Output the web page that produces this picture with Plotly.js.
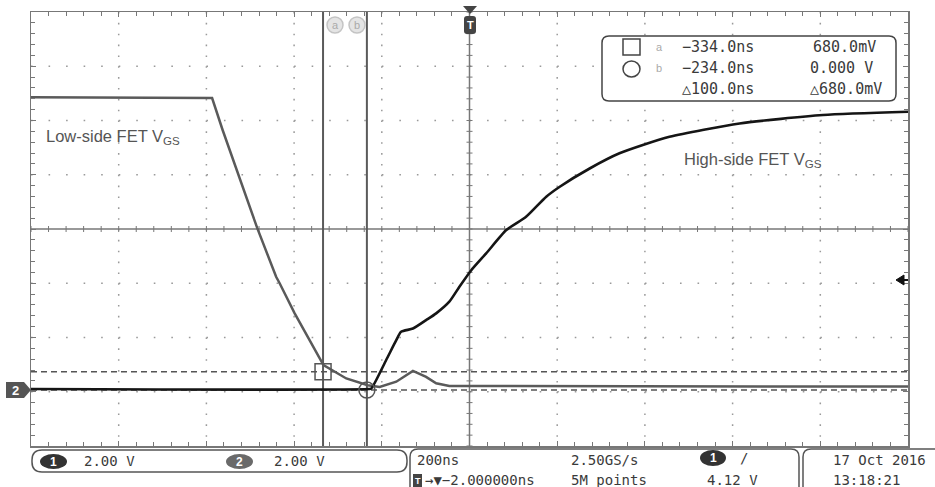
<!DOCTYPE html>
<html><head><meta charset="utf-8">
<script src="https://cdn.plot.ly/plotly-3.0.1.min.js"></script>
<style>html,body{margin:0;padding:0;background:#fff}#chart{width:935px;height:487px}</style>
</head><body><div id="chart"></div>
<script>
// ---- Data (time in ns, voltage in V) ----
const lowSideT = [-1000, -587, -563, -525, -484, -441, -433, -399, -365, -333, -281, -232, -205, -167, -129, -99, -76, -46, 1000];
const lowSideV = [10.80, 10.77, 9.59, 7.86, 5.97, 4.18, 3.94, 2.84, 1.84, 0.92, 0.43, 0.18, 0.12, 0.31, 0.71, 0.49, 0.25, 0.15, 0.13];
const highSideT = [-1000, -230, -224, -190, -167, -156, -129, -99, -76, -46, -23, 4, 38, 84, 129, 175, 205, 274, 342, 456, 616, 806, 1000];
const highSideV = [0.04, 0.04, 0.06, 1.11, 1.84, 2.15, 2.27, 2.58, 2.83, 3.26, 3.81, 4.42, 5.04, 5.90, 6.39, 7.13, 7.49, 8.17, 8.73, 9.34, 9.83, 10.14, 10.26];
const cursorT = [-334, -234];
const cursorV = [0.68, 0.0];
const readoutTime = ["\u2212334.0ns", "\u2212234.0ns", "\u25B3100.0ns"];
const readoutVolt = ["680.0mV", "0.000 V", "\u25B3680.0mV"];
const channelScale = ["2.00 V", "2.00 V"];
const timebase = "200ns";
const trigPos = "\u2192\u25BC\u22122.000000ns";
const sampleRate = "2.50GS/s";
const recordLen = "5M points";
const trigLevel = "4.12 V";
const dateStr = "17 Oct 2016";
const timeStr = "13:18:21";
const labelLow = "Low-side FET V<sub>GS</sub>";
const labelHigh = "High-side FET V<sub>GS</sub>";

// ---- geometry helpers (pixel -> paper) ----
const L = 31, R = 908, T = 12, B = 446;
const X = px => (px - L) / (R - L);
const Y = py => (B - py) / (B - T);
function rr(x0, y0, x1, y1, r) {
  const p = (x, y) => X(x).toFixed(5) + ',' + Y(y).toFixed(5);
  return 'M' + p(x0 + r, y0) + ' L' + p(x1 - r, y0) + ' Q' + p(x1, y0) + ' ' + p(x1, y0 + r) +
    ' L' + p(x1, y1 - r) + ' Q' + p(x1, y1) + ' ' + p(x1 - r, y1) +
    ' L' + p(x0 + r, y1) + ' Q' + p(x0, y1) + ' ' + p(x0, y1 - r) +
    ' L' + p(x0, y0 + r) + ' Q' + p(x0, y0) + ' ' + p(x0 + r, y0) + ' Z';
}
function poly(pts) {
  return 'M' + pts.map(q => X(q[0]).toFixed(5) + ',' + Y(q[1]).toFixed(5)).join(' L') + ' Z';
}

const xRange = [-1000, 1000];
const yRange = [-2.06, 13.94];
const yCenter = (yRange[0] + yRange[1]) / 2;
const divT = 200, divV = 2;
const pxPerT = (R - L) / (xRange[1] - xRange[0]);
const pxPerV = (B - T) / (yRange[1] - yRange[0]);

const mono = 'DejaVu Sans Mono';
const sans = 'Liberation Sans, Arial, sans-serif';
const ink = '#3a3a3a';

const traces = [
  {x: lowSideT, y: lowSideV, mode: 'lines', line: {color: '#5a5a5a', width: 2.5}, hoverinfo: 'skip'},
  {x: highSideT, y: highSideV, mode: 'lines', line: {color: '#151515', width: 2.6, shape: 'spline', smoothing: 0.6}, hoverinfo: 'skip'},
  {x: [cursorT[0]], y: [cursorV[0]], mode: 'markers', marker: {symbol: 'square-open', size: 16, color: '#555', line: {width: 1.5}}, hoverinfo: 'skip'},
  {x: [cursorT[1]], y: [cursorV[1]], mode: 'markers', marker: {symbol: 'circle-open', size: 16, color: '#555', line: {width: 1.5}}, hoverinfo: 'skip'}
];

const shapes = [];
// dotted graticule (dots every minor division)
const vPeriod = divV / 5 * pxPerV, hPeriod = divT / 5 * pxPerT;
for (let k = 1; k < 10; k++) {
  const t = xRange[0] + k * divT;
  if (Math.abs(t) < 1e-9) continue;
  shapes.push({type: 'line', xref: 'x', yref: 'y', x0: t, x1: t, y0: yRange[1], y1: yRange[0], layer: 'below',
    line: {color: '#9a9a9a', width: 1.5, dash: '1.6px,' + (vPeriod - 1.6).toFixed(3) + 'px'}});
}
for (let k = 1; k < 8; k++) {
  const v = yRange[0] + k * divV;
  if (Math.abs(v - yCenter) < 1e-9) continue;
  shapes.push({type: 'line', xref: 'x', yref: 'y', x0: xRange[0], x1: xRange[1], y0: v, y1: v, layer: 'below',
    line: {color: '#9a9a9a', width: 1.5, dash: '1.6px,' + (hPeriod - 1.6).toFixed(3) + 'px'}});
}
// center crosshair
shapes.push({type: 'line', xref: 'x', yref: 'y', x0: 0, x1: 0, y0: yRange[0], y1: yRange[1], line: {color: '#777', width: 1.5}, layer: 'below'});
shapes.push({type: 'line', xref: 'x', yref: 'y', x0: xRange[0], x1: xRange[1], y0: yCenter, y1: yCenter, line: {color: '#777', width: 1.5}, layer: 'below'});
const dV = 3 / pxPerV;
const dT = 3 / pxPerT;
for (let k = -25; k <= 25; k++) {
  const t = k * divT / 5;
  shapes.push({type: 'line', xref: 'x', yref: 'y', x0: t, x1: t, y0: yCenter - dV, y1: yCenter + dV, line: {color: '#777', width: 1}, layer: 'below'});
}
for (let k = -20; k <= 20; k++) {
  const v = yCenter + k * divV / 5;
  shapes.push({type: 'line', xref: 'x', yref: 'y', x0: -dT, x1: dT, y0: v, y1: v, line: {color: '#777', width: 1}, layer: 'below'});
}
// cursors
cursorT.forEach(t => shapes.push({type: 'line', xref: 'x', yref: 'y', x0: t, x1: t, y0: yRange[0], y1: yRange[1], line: {color: '#5a5a5a', width: 2}, layer: 'below'}));
cursorV.forEach(v => shapes.push({type: 'line', xref: 'x', yref: 'y', x0: xRange[0], x1: xRange[1], y0: v, y1: v, line: {color: '#555', width: 1.5, dash: '6px,4px'}, layer: 'below'}));
// cursor icons
[[335, 25], [357, 25], [659, 47], [659, 68]].forEach(c => shapes.push({type: 'circle', xref: 'paper', yref: 'paper', x0: X(c[0] - 8), x1: X(c[0] + 8), y0: Y(c[1] + 8), y1: Y(c[1] - 8), fillcolor: '#e4e4e4', line: {color: '#c4c4c4', width: 1.5}}));
// trigger marker at top
shapes.push({type: 'path', xref: 'paper', yref: 'paper', path: poly([[463, 6], [477, 6], [470, 14]]), fillcolor: '#444', line: {width: 0}});
shapes.push({type: 'path', xref: 'paper', yref: 'paper', path: rr(464, 16, 476, 34, 3), fillcolor: '#444', line: {width: 0}});
// trigger level arrow (right)
shapes.push({type: 'path', xref: 'paper', yref: 'paper', path: poly([[896, 280], [904, 275], [904, 285]]), fillcolor: '#111', line: {color: '#111', width: 1}});
shapes.push({type: 'line', xref: 'paper', yref: 'paper', x0: X(903), x1: X(908), y0: Y(280), y1: Y(280), line: {color: '#111', width: 2}});
// ch2 ground marker (left)
shapes.push({type: 'path', xref: 'paper', yref: 'paper', path: poly([[6, 382], [24, 382], [31, 390], [24, 398], [6, 398]]), fillcolor: '#555', line: {width: 0}});
// readout box
shapes.push({type: 'path', xref: 'paper', yref: 'paper', path: rr(602, 36, 896, 101, 7), fillcolor: '#fff', line: {color: '#444', width: 1.5}});
shapes.push({type: 'rect', xref: 'paper', yref: 'paper', x0: X(623), x1: X(640), y0: Y(55), y1: Y(39), line: {color: '#444', width: 1.5}});
shapes.push({type: 'circle', xref: 'paper', yref: 'paper', x0: X(623), x1: X(640), y0: Y(77), y1: Y(61), line: {color: '#444', width: 1.5}});
// status bar boxes
shapes.push({type: 'path', xref: 'paper', yref: 'paper', path: rr(32, 450, 407, 472, 10), line: {color: '#555', width: 1.5}});
shapes.push({type: 'path', xref: 'paper', yref: 'paper', path: rr(410, 449, 799, 497, 8), line: {color: '#555', width: 1.5}});
shapes.push({type: 'path', xref: 'paper', yref: 'paper', path: rr(803, 449, 945, 497, 8), line: {color: '#555', width: 1.5}});
// channel badges
[[40, 454, 67, 469, '#333'], [226, 454, 253, 469, '#6a6a6a'], [700, 450, 726, 466, '#333']].forEach(b =>
  shapes.push({type: 'circle', xref: 'paper', yref: 'paper', x0: X(b[0]), x1: X(b[2]), y0: Y(b[3]), y1: Y(b[1]), fillcolor: b[4], line: {width: 0}}));
// trigger-position T icon
shapes.push({type: 'rect', xref: 'paper', yref: 'paper', x0: X(413), x1: X(422), y0: Y(487), y1: Y(474), fillcolor: '#444', line: {width: 0}});

const ann = [];
function txt(text, px, py, opts) {
  ann.push(Object.assign({xref: 'paper', yref: 'paper', x: X(px), y: Y(py), text: text, showarrow: false,
    xanchor: 'left', yanchor: 'middle', font: {family: mono, size: 14, color: ink}}, opts || {}));
}
txt(labelLow, 44, 137, {font: {family: sans, size: 16.5, color: '#555'}});
txt(labelHigh, 682, 160, {font: {family: sans, size: 16.5, color: '#555'}});
const rowY = [47, 68, 89];
readoutTime.forEach((s, i) => txt(s, 680, rowY[i], {font: {family: mono, size: 15, color: ink}}));
const voltRight = [878, 875, 884];
readoutVolt.forEach((s, i) => txt(s, voltRight[i], rowY[i], {xanchor: 'right', font: {family: mono, size: 15, color: ink}}));
[['a', 335, 25], ['b', 357, 25], ['a', 659, 47], ['b', 659, 68]].forEach(c => txt(c[0], c[1], c[2], {xanchor: 'center', font: {family: sans, size: 11, color: '#aaa'}}));
txt('<b>T</b>', 470, 25, {xanchor: 'center', font: {family: sans, size: 11, color: '#fff'}});
txt('<b>2</b>', 15, 390, {xanchor: 'center', font: {family: sans, size: 13, color: '#fff'}});
txt('<b>1</b>', 53.5, 461.5, {xanchor: 'center', font: {family: sans, size: 12, color: '#fff'}});
txt('<b>2</b>', 239.5, 461.5, {xanchor: 'center', font: {family: sans, size: 12, color: '#fff'}});
txt(channelScale[0], 82, 461);
txt(channelScale[1], 272, 461);
txt(timebase, 415, 460);
txt('<b>T</b>', 417.5, 480.5, {xanchor: 'center', font: {family: sans, size: 9, color: '#fff'}});
txt(trigPos, 423, 480);
txt(sampleRate, 569, 460);
txt(recordLen, 569, 480);
txt('<b>1</b>', 713, 458, {xanchor: 'center', font: {family: sans, size: 12, color: '#fff'}});
txt('/', 738, 458);
txt(trigLevel, 705, 480);
txt(dateStr, 831, 460);
txt(timeStr, 831, 480);

const axisCommon = {showgrid: false, zeroline: false, showticklabels: false, ticks: 'inside', ticklen: 5,
  tickcolor: '#777', showline: true, linecolor: '#777', linewidth: 1.5, mirror: 'allticks', fixedrange: true};
const layout = {
  width: 935, height: 487,
  margin: {l: L, r: 935 - R, t: T, b: 487 - B, pad: 0},
  paper_bgcolor: '#fff', plot_bgcolor: 'rgba(0,0,0,0)',
  showlegend: false,
  xaxis: Object.assign({range: xRange, tick0: 0, dtick: divT,
    minor: {tick0: 0, dtick: divT / 5, ticks: 'inside', ticklen: 4, tickcolor: '#777', showgrid: false}}, axisCommon),
  yaxis: Object.assign({range: yRange, tick0: yRange[0], dtick: divV,
    minor: {tick0: yRange[0], dtick: divV / 5, ticks: 'inside', ticklen: 4, tickcolor: '#777', showgrid: false}}, axisCommon),
  shapes: shapes,
  annotations: ann
};
Plotly.newPlot('chart', traces, layout, {staticPlot: true, displayModeBar: false});
</script></body></html>
